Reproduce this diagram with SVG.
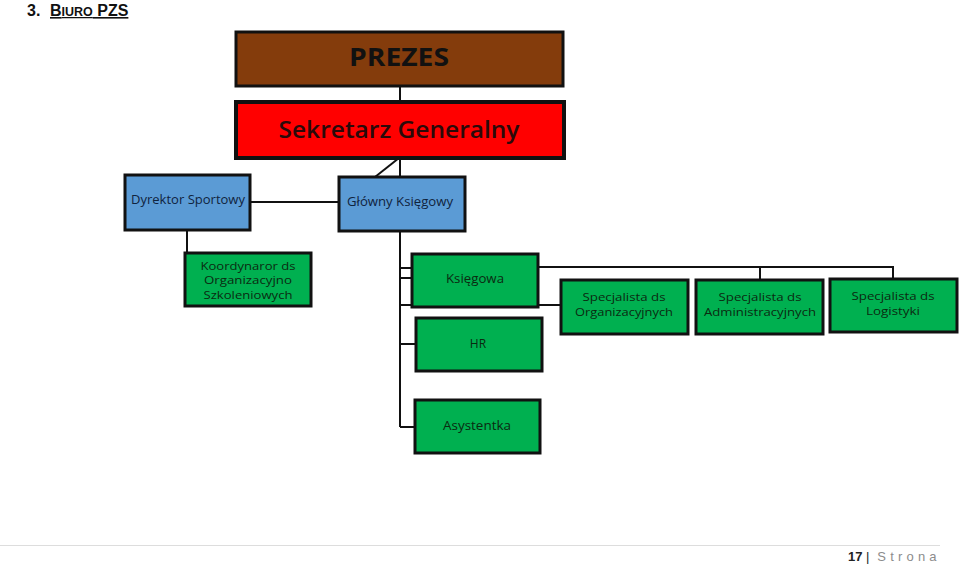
<svg xmlns="http://www.w3.org/2000/svg" width="960" height="565" viewBox="0 0 960 565">
<style>
.box{stroke:#111;stroke-width:3}
.g{fill:#00B050}
.b{fill:#5B9BD5}
.t{font-family:"Open Sans","Liberation Sans",sans-serif;font-size:12px;text-anchor:middle;fill:#0b2a10}
.s{font-size:10.5px}
.tb{fill:#10233d}
.c{fill:none;stroke:#111;stroke-width:2}
</style>
<rect width="960" height="565" fill="#fff"/>
<g id="title">
<text x="27" y="16" font-family="'Liberation Sans',sans-serif" font-weight="bold" font-size="16" fill="#111">3.</text>
<text x="50" y="16" font-family="'Liberation Sans',sans-serif" font-weight="bold" font-size="16" fill="#111" text-decoration="underline">B<tspan font-size="12.5">IURO</tspan> PZS</text>
</g>
<g id="connectors">
<line class="c" x1="400" y1="86" x2="400" y2="102"/>
<line class="c" x1="400" y1="158" x2="400" y2="177"/>
<line class="c" x1="399" y1="158" x2="375" y2="177"/>
<line class="c" x1="250" y1="202" x2="339" y2="202"/>
<line class="c" x1="187" y1="230" x2="187" y2="253"/>
<line class="c" x1="400" y1="231" x2="400" y2="427"/>
<line class="c" x1="400" y1="268" x2="412" y2="268"/>
<line class="c" x1="400" y1="278" x2="412" y2="278"/>
<line class="c" x1="400" y1="305" x2="561" y2="305"/>
<line class="c" x1="400" y1="344" x2="416" y2="344"/>
<line class="c" x1="400" y1="427" x2="416" y2="427"/>
<polyline class="c" points="538,267 893,267 893,279"/>
<line class="c" x1="760" y1="267" x2="760" y2="280"/>
<line x1="0" y1="545.5" x2="940" y2="545.5" stroke="#ddd" stroke-width="1"/>
</g>
<g id="prezes">
<rect class="box" x="236" y="32" width="327" height="54" fill="#843C0C"/>
<text x="399" y="66" font-family="'Open Sans','Liberation Sans',sans-serif" font-weight="bold" font-size="25" text-anchor="middle" fill="#111" textLength="100" lengthAdjust="spacingAndGlyphs">PREZES</text>
</g>
<g id="sekretarz">
<rect x="236" y="102" width="328" height="56" fill="#FF0000" stroke="#111" stroke-width="4"/>
<text x="399" y="138" font-family="'Open Sans','Liberation Sans',sans-serif" font-weight="600" font-size="23" text-anchor="middle" fill="#2a0a0a" textLength="241" lengthAdjust="spacingAndGlyphs">Sekretarz Generalny</text>
</g>
<g id="dyrektor">
<rect class="box b" x="125" y="175" width="125" height="55"/>
<text class="t tb" x="188" y="204" textLength="114" lengthAdjust="spacingAndGlyphs">Dyrektor Sportowy</text>
</g>
<g id="glowny">
<rect class="box b" x="339" y="177" width="126" height="54"/>
<text class="t tb" x="400" y="206" textLength="106" lengthAdjust="spacingAndGlyphs">Główny Księgowy</text>
</g>
<g id="koordynator">
<rect class="box g" x="185" y="253" width="126" height="53"/>
<text class="t s" x="248" y="269.5" textLength="95" lengthAdjust="spacingAndGlyphs">Koordynaror ds</text>
<text class="t s" x="248" y="284" textLength="88" lengthAdjust="spacingAndGlyphs">Organizacyjno</text>
<text class="t s" x="248" y="298.5" textLength="89" lengthAdjust="spacingAndGlyphs">Szkoleniowych</text>
</g>
<g id="ksiegowa">
<rect class="box g" x="412" y="254" width="126" height="53"/>
<text class="t" x="475" y="283" textLength="58" lengthAdjust="spacingAndGlyphs">Księgowa</text>
</g>
<g id="hr">
<rect class="box g" x="416" y="318" width="126" height="53"/>
<text class="t" x="478" y="348">HR</text>
</g>
<g id="asystentka">
<rect class="box g" x="415" y="400" width="125" height="53"/>
<text class="t" x="477" y="430" textLength="68" lengthAdjust="spacingAndGlyphs">Asystentka</text>
</g>
<g id="spec-org">
<rect class="box g" x="561" y="280" width="127" height="54"/>
<text class="t s" x="624" y="301" textLength="83" lengthAdjust="spacingAndGlyphs">Specjalista ds</text>
<text class="t s" x="624" y="315.5" textLength="98" lengthAdjust="spacingAndGlyphs">Organizacyjnych</text>
</g>
<g id="spec-adm">
<rect class="box g" x="696" y="280" width="127" height="54"/>
<text class="t s" x="760" y="301" textLength="83" lengthAdjust="spacingAndGlyphs">Specjalista ds</text>
<text class="t s" x="760" y="315.5" textLength="112" lengthAdjust="spacingAndGlyphs">Administracyjnych</text>
</g>
<g id="spec-log">
<rect class="box g" x="830" y="279" width="127" height="53"/>
<text class="t s" x="893" y="300" textLength="83" lengthAdjust="spacingAndGlyphs">Specjalista ds</text>
<text class="t s" x="893" y="314.5" textLength="54" lengthAdjust="spacingAndGlyphs">Logistyki</text>
</g>
<g id="footer">
<text x="848" y="561" font-family="'Liberation Sans',sans-serif" font-size="13" fill="#222"><tspan font-weight="bold">17</tspan><tspan> |</tspan><tspan fill="#8c8c8c" letter-spacing="4.2"> Strona</tspan></text>
</g>
</svg>
